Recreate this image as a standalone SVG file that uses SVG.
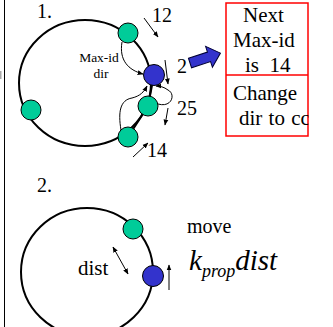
<svg xmlns="http://www.w3.org/2000/svg" width="333" height="327" viewBox="0 0 333 327">
<defs>
<marker id="ah" viewBox="0 0 10 10" refX="9" refY="5" markerWidth="6" markerHeight="6" orient="auto-start-reverse" markerUnits="userSpaceOnUse">
<path d="M0,1 L10,5 L0,9 Z" fill="#000"/>
</marker>
<clipPath id="boxclip"><rect x="226" y="0" width="82.5" height="140"/></clipPath>
</defs>
<style>
.t{font-family:"Liberation Serif","Times New Roman",serif;fill:#000}
.ring{fill:none;stroke:#000;stroke-width:2}
.green{fill:#00CC99;stroke:#000;stroke-width:1}
.blue{fill:#3333CC;stroke:#000;stroke-width:1}
.c{fill:none;stroke:#000;stroke-width:1;marker-end:url(#ah)}
.box{fill:none;stroke:#FF0000;stroke-width:1.5}
</style>
<rect width="333" height="327" fill="#fff"/>
<line x1="4.5" y1="0" x2="4.5" y2="327" stroke="#000" stroke-width="1"/>
<rect x="0" y="71" width="1.5" height="8" fill="#aaa"/>

<!-- Panel 1 -->
<text class="t" x="37" y="18" font-size="20">1.</text>
<ellipse class="ring" cx="85" cy="83" rx="66" ry="63"/>
<path class="ring" d="M154,75 L148,106 L128,137" stroke-width="2.5"/>

<g id="connectors">
<path class="c" d="M122,42 C119,60 128,70 143,74"/>
<path class="c" d="M121,130 C118,112 120,100 132,98 C140,96 144,92 147,86"/>
<path class="c" d="M158,104 C172,108 176,94 168,90 C164,87 160,86 156,86"/>
<path class="c" d="M144,18 L158,37"/>
<path class="c" d="M165,60 L168,84"/>
<path class="c" d="M168,108 L165,125"/>
<path class="c" d="M133,157 L148,143"/>
<path class="c" d="M113,247 L128,274" marker-start="url(#ah)"/>
<path class="c" d="M169,290 L169,265"/>
</g>

<g id="node-top"><circle class="green" cx="128" cy="33" r="10"/></g>
<g id="node-left"><circle class="green" cx="31" cy="110" r="10"/></g>
<g id="node-mid"><circle class="green" cx="148" cy="106" r="10"/></g>
<g id="node-bottom"><circle class="green" cx="128" cy="137" r="10"/></g>
<g id="node-blue"><circle class="blue" cx="154" cy="75" r="10.5"/></g>

<text class="t" x="99" y="62" font-size="13.5" text-anchor="middle">Max-id</text>
<text class="t" x="101" y="78" font-size="13.5" text-anchor="middle">dir</text>
<text class="t" x="152" y="22" font-size="20">12</text>
<text class="t" x="177" y="73" font-size="20">2</text>
<text class="t" x="177" y="115" font-size="20">25</text>
<text class="t" x="147" y="157" font-size="20">14</text>

<g id="big-arrow">
<polygon points="0,-5 20,-5 20,-11 32,0 20,11 20,5 0,5" transform="translate(190,63) rotate(-18)" fill="#3333CC" stroke="#000033" stroke-width="1"/>
</g>

<g id="info-box">
<rect class="box" x="226" y="3" width="82" height="133"/>
<line class="box" x1="226" y1="75" x2="308" y2="75"/>
<g clip-path="url(#boxclip)">
<text class="t" x="243" y="22" font-size="21">Next</text>
<text class="t" x="233" y="47" font-size="21">Max-id</text>
<text class="t" x="245" y="72" font-size="21" style="white-space:pre">is  14</text>
<text class="t" x="233" y="100" font-size="21">Change</text>
<text class="t" x="239" y="125" font-size="21" word-spacing="1">dir to cc</text>
</g>
</g>

<!-- Panel 2 -->
<text class="t" x="37" y="192" font-size="20">2.</text>
<ellipse class="ring" cx="87" cy="272" rx="66" ry="64"/>
<g id="node2-green"><circle class="green" cx="133" cy="229" r="10"/></g>
<g id="node2-blue"><circle class="blue" cx="153" cy="276" r="10.5"/></g>
<text class="t" x="78" y="275" font-size="21">dist</text>
<text class="t" x="187" y="233" font-size="20">move</text>
<text class="t" x="189" y="270" font-size="29" font-style="italic">k<tspan font-size="18" dy="7">prop</tspan><tspan dy="-7">dist</tspan></text>
</svg>
